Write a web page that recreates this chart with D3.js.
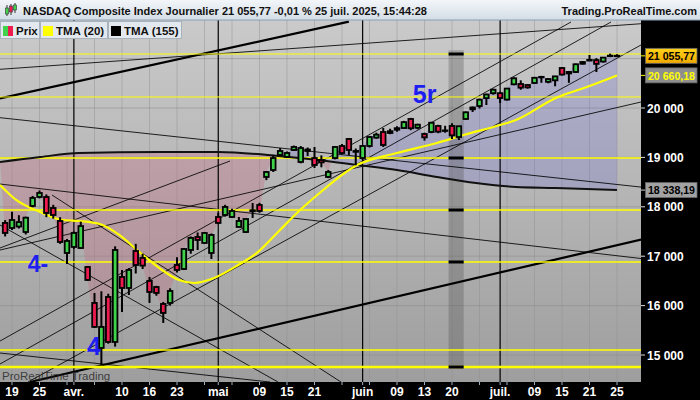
<!DOCTYPE html>
<html><head><meta charset="utf-8">
<script src="https://cdn.jsdelivr.net/npm/d3@7"></script>
<style>body{margin:0;background:#000;} svg{display:block;font-family:"Liberation Sans",Arial,sans-serif;}</style>
</head><body><svg id="c" width="700" height="400"></svg>
<script>
// ---------- DATA ----------
const firstIdx = -1; // candle index of first array element (0 = 19 mars)
const opens = [17673,17571,17600,17490,18017,18199,18199,17976,17713,17065,17187,17166,16782,16054,15142,16175,15264,16580,16357,17106,16964,16499,16377,16033,16054,16822,16741,17126,17389,17268,17065,17794,17834,17794,17592,17490,17910,18037,18604,18745,19049,19010,19150,18907,19160,18987,18947,18604,18987,19231,19373,19130,18987,19231,19400,19514,19494,19560,19595,19778,19600,19474,19514,19636,19540,19636,19413,19778,20010,20040,20200,20300,20300,20170,20480,20486,20466,20506,20620,20530,20560,20810,20700,20729,20931,20960,20970,20940,21060,21058];
const highs = [17730,17900,17830,17800,18220,18330,18250,18040,17790,17350,17500,17700,16800,16256,16290,16240,17200,16720,16760,17250,17050,16580,16400,16074,16350,16980,17160,17400,17480,17490,17460,17880,18040,17960,17794,17760,18077,18080,18720,19049,19190,19120,19240,19230,19200,19211,19040,18745,19230,19270,19390,19180,19250,19430,19500,19595,19580,19630,19740,19800,19680,19500,19720,19660,19640,19690,19640,19930,20030,20190,20290,20390,20330,20400,20620,20560,20480,20630,20650,20600,20650,20830,20750,20900,20950,21073,21010,21030,21100,21090];
const lows = [17400,17530,17560,17440,17990,18170,17790,17760,17250,16843,17150,17150,16500,15550,14798,15230,15170,15870,16215,16650,16740,16054,16200,15649,16000,16670,16720,17050,17126,17250,16944,17650,17800,17780,17580,17470,17774,17880,18540,18705,19030,18990,19130,18880,19030,18785,18800,18580,18960,19060,19050,18840,18950,19200,19380,19211,19470,19520,19580,19550,19570,19340,19490,19490,19500,19370,19352,19760,19920,19990,20060,20270,20100,20150,20460,20370,20390,20490,20510,20500,20440,20660,20510,20710,20880,20950,20729,20920,21030,21030];
const closes = [17470,17733,17690,17780,18179,18280,17875,17834,17288,17308,17470,17610,16519,15568,15568,15264,17126,16357,16721,16822,16810,16276,16256,15851,16296,16721,17146,17369,17328,17470,17430,17673,17996,17915,17713,17753,17930,17915,18705,18987,19130,19089,19211,19190,19130,18846,18900,18705,19211,19089,19150,19113,19231,19413,19460,19251,19530,19591,19714,19590,19662,19406,19701,19521,19546,19447,19630,19913,19974,20168,20273,20370,20202,20393,20601,20412,20418,20611,20630,20586,20640,20677,20730,20885,20896,20974,20893,21020,21057,21055.77];

// TMA(20)
const tma20Idx = [-1.75,0.6,4.1,7.4,9.9,12.8,15.6,18.5,21.4,24.3,26.5,29.4,32.9,35.8,38.7,41.6,44.4,50.2,56,61.8,65.7,71,73.3,79.1,83.6,88];
const tma20Val = [18442,18138,17895,17733,17713,17652,17430,17086,16762,16519,16458,16559,16822,17086,17490,17895,18239,18846,19089,19292,19454,19656,19757,20203,20425,20660.18];
// TMA(155)
const tma155Idx = [-1.75,4.1,9.7,21.4,30,38.7,44.4,50.2,56,61.8,67.5,73.3,79.1,88];
const tma155Val = [18907,19008,19089,19110,19110,19029,18947,18846,18745,18604,18482,18401,18381,18338.19];

// axis
const yTicks = [15000,16000,17000,18000,19000,20000,21000];
const gridIdx = [0,4,8,12,16,20,24,28,32,36,40,44,48,52,56,60,64,68,72,76,80,84,88];
const monthIdx = [9,30,51,71];
const labelIdx = [0,4,9,16,20,24,30,36,40,44,51,56,60,64,71,76,80,84,88];
const labelText = ["19","25","avr.","10","16","23","mai","09","15","21","juin","09","13","20","juil.","09","15","21","25"];

// horizontal support / resistance lines (yellow)
const hLevels = [21093,20223,18988,17935,16883,15101,14757];
const hLevelWidth = [1,1,1.3,1.3,1.3,1.3,2.4];
const hLevelMarked = [1,0,1,1,1,0,1];

// trend lines [idx1, val1, idx2, val2, width]
const trendLines = [
  [-1.75,20196,49.0,21747,2.6],
  [-1.75,20783,91.5,21706,1],
  [-1.75,19804,91.5,18399,1],
  [2.62,14454,91.5,17336,2.6],
  [-1.75,18461,91.5,16953,1],
  [-1.745,15283,81.31,21741,1],
  [-1.745,14818,87.13,21741,1],
  [2.33,14453,91.49,21275,1],
  [-1.745,17125,91.49,20121,1],
  [-1.745,17166,31.71,18927,1],
  [-1.745,17631,38.69,14453,1],
  [5.82,18239,47.85,14453,1],
  [-1.745,15040,37.53,14453,1]
];

// shaded vertical band
const bandIdx = [63.5, 65.7];
const bandVal = [21170, 14730];

// labels
const waves = [{t:"5r", i:58.3, v:20101, s:25},{t:"4-", i:2.3, v:16681, s:23},{t:"4", i:10.9, v:15000, s:25}];
const lastPrice = 21055.77, lastTma20 = 20660.18, lastTma155 = 18338.19;

// ---------- CHART ----------
const svg = d3.select("#c");
const W = 700, H = 400, PL = 0, PR = 641, PT = 20, PB = 382;
const x = d3.scaleLinear().domain([0, 88]).range([12, 617]);
const y = d3.scaleLinear().domain([15000, 20000]).range([355, 108]);
const fmt = v => d3.format(",.2f")(v).replace(/,/g, " ").replace(".", ",");

const defs = svg.append("defs");
const bg = defs.append("linearGradient").attr("id","bg").attr("x1",0).attr("y1",0).attr("x2",0).attr("y2",1);
bg.append("stop").attr("offset","0%").attr("stop-color","#cacaca");
bg.append("stop").attr("offset","100%").attr("stop-color","#9e9e9e");
const hg = defs.append("linearGradient").attr("id","hg").attr("x1",0).attr("y1",0).attr("x2",0).attr("y2",1);
hg.append("stop").attr("offset","0%").attr("stop-color","#f3f6f9");
hg.append("stop").attr("offset","100%").attr("stop-color","#d3dde6");
const og = defs.append("linearGradient").attr("id","og").attr("x1",0).attr("y1",0).attr("x2",0).attr("y2",1);
og.append("stop").attr("offset","0%").attr("stop-color","#ffd21a");
og.append("stop").attr("offset","100%").attr("stop-color","#f0a800");
defs.append("clipPath").attr("id","plot").append("rect").attr("x",PL).attr("y",PT).attr("width",PR-PL).attr("height",PB-PT);

svg.append("rect").attr("width",W).attr("height",H).attr("fill","#000");
svg.append("rect").attr("x",PL).attr("y",PT).attr("width",PR-PL).attr("height",PB-PT).attr("fill","url(#bg)");

const g = svg.append("g").attr("clip-path","url(#plot)");

// grid
g.selectAll(".hg").data(yTicks).join("line").attr("x1",PL).attr("x2",PR).attr("y1",d=>y(d)).attr("y2",d=>y(d)).attr("stroke","#8f8f8f").attr("stroke-opacity",0.6);
g.selectAll(".vg").data(gridIdx).join("line").attr("x1",d=>x(d)).attr("x2",d=>x(d)).attr("y1",PT).attr("y2",PB).attr("stroke","#8f8f8f").attr("stroke-opacity",0.45);

// candles as objects
const candles = closes.map((c,k)=>({i:k+firstIdx,o:opens[k],h:highs[k],l:lows[k],c:c}));
const tma155Pts = tma155Idx.map((d,k)=>[x(d), y(tma155Val[k])]);
const closePts = candles.map(d=>[x(d.i), y(d.c)]);
const line = d3.line();
// cloud between close and TMA155
const cloudPath = line(closePts) + "L" + line(tma155Pts.slice().reverse()).slice(1) + "Z";
const lineT = line(tma155Pts).slice(1);
defs.append("clipPath").attr("id","below").append("path").attr("d","M"+lineT+"L"+PR+","+PB+"L"+PL+","+PB+"Z");
defs.append("clipPath").attr("id","above").append("path").attr("d","M"+lineT+"L"+PR+","+PT+"L"+PL+","+PT+"Z");
g.append("g").attr("clip-path","url(#below)").append("path").attr("d",cloudPath).attr("fill","#c8687f").attr("fill-opacity",0.3);
g.append("g").attr("clip-path","url(#above)").append("path").attr("d",cloudPath).attr("fill","#6a6ad8").attr("fill-opacity",0.25);

// shaded band
g.append("rect").attr("x",x(bandIdx[0])).attr("width",x(bandIdx[1])-x(bandIdx[0])).attr("y",y(bandVal[0])).attr("height",y(bandVal[1])-y(bandVal[0])).attr("fill","#555").attr("fill-opacity",0.33);

// month lines
g.selectAll(".ml").data(monthIdx).join("line").attr("x1",d=>x(d)).attr("x2",d=>x(d)).attr("y1",PT).attr("y2",PB).attr("stroke","#000").attr("stroke-width",1.2);

// trend lines
g.selectAll(".tl").data(trendLines).join("line")
 .attr("x1",d=>x(d[0])).attr("y1",d=>y(d[1])).attr("x2",d=>x(d[2])).attr("y2",d=>y(d[3]))
 .attr("stroke","#000").attr("stroke-width",d=>d[4]*0.85);

// yellow levels
g.selectAll(".yl").data(hLevels).join("line").attr("x1",PL).attr("x2",PR).attr("y1",d=>y(d)).attr("y2",d=>y(d)).attr("stroke","#ffff00").attr("stroke-width",(d,k)=>hLevelWidth[k]);
// black marks in band
g.selectAll(".bm").data(hLevels.filter((d,k)=>hLevelMarked[k])).join("line").attr("x1",x(bandIdx[0])).attr("x2",x(bandIdx[1])).attr("y1",d=>y(d)).attr("y2",d=>y(d)).attr("stroke","#000").attr("stroke-width",3);

// TMA lines
const ml = d3.line().curve(d3.curveMonotoneX);
g.append("path").attr("d",ml(tma155Pts)).attr("fill","none").attr("stroke","#111").attr("stroke-width",2);
g.append("path").attr("d",ml(tma20Idx.map((d,k)=>[x(d),y(tma20Val[k])]))).attr("fill","none").attr("stroke","#ffff00").attr("stroke-width",2.2);

// candles
const cg = g.append("g");
cg.selectAll(".w").data(candles).join("line").attr("x1",d=>x(d.i)).attr("x2",d=>x(d.i)).attr("y1",d=>y(d.h)).attr("y2",d=>y(d.l)).attr("stroke","#000").attr("stroke-width",2);
cg.selectAll(".b").data(candles).join("rect")
 .attr("x",d=>x(d.i)-2.3).attr("width",4.6)
 .attr("y",d=>y(Math.max(d.o,d.c))).attr("height",d=>Math.max(0.5,Math.abs(y(d.o)-y(d.c))))
 .attr("fill",d=>d.c>=d.o?"#3fd24a":"#ee1c4e").attr("stroke","#000").attr("stroke-width",1.8);

// wave labels
g.selectAll(".wv").data(waves).join("text").attr("x",d=>x(d.i)).attr("y",d=>y(d.v)).attr("font-size",d=>d.s).attr("font-weight","bold").attr("fill","#1e1ef0").text(d=>d.t);

// watermark
svg.append("text").attr("x",2).attr("y",380).attr("font-size",11.5).attr("fill","#2a2a2a").attr("fill-opacity",0.85).text("ProRealTime Trading");

// x axis
svg.selectAll(".xt").data(gridIdx.concat(monthIdx)).join("line").attr("x1",d=>x(d)).attr("x2",d=>x(d)).attr("y1",PB).attr("y2",PB+3).attr("stroke","#9fb0c0");
svg.selectAll(".xl").data(labelIdx).join("text").attr("x",d=>x(d)).attr("y",396).attr("text-anchor","middle").attr("font-size",12).attr("font-weight","bold").attr("fill","#fff").text((d,k)=>labelText[k]);

// y axis
svg.selectAll(".yt").data(yTicks.filter(v=>v<=20000)).join("line").attr("x1",PR).attr("x2",PR+4).attr("y1",d=>y(d)).attr("y2",d=>y(d)).attr("stroke","#ddd");
svg.selectAll(".ylab").data(yTicks.filter(v=>v<=20000)).join("text").attr("x",PR+6).attr("y",d=>y(d)+4.5).attr("font-size",12).attr("font-weight","bold").attr("fill","#fff").text(d=>d3.format(",")(d).replace(/,/g," "));

// price boxes
const boxes = [{v:lastTma155, fill:"#a2a2a2", tc:"#000", tick:"#ccc"},{v:lastTma20, fill:"#8e8e8e", tc:"#ffff00", tick:"#ffff00"},{v:lastPrice, fill:"url(#og)", tc:"#000", tick:"#ffff00"}];
boxes.forEach(b=>{
  const yy = y(b.v);
  svg.append("line").attr("x1",PR).attr("x2",PR+5).attr("y1",yy).attr("y2",yy).attr("stroke",b.tick);
  svg.append("rect").attr("x",PR+4.5).attr("y",yy-7.5).attr("width",51.5).attr("height",15).attr("fill",b.fill).attr("stroke","#666").attr("stroke-width",0.8);
  svg.append("text").attr("x",PR+7).attr("y",yy+4.2).attr("font-size",11.5).attr("font-weight","bold").attr("fill",b.tc).attr("textLength",47).attr("lengthAdjust","spacingAndGlyphs").text(fmt(b.v));
});

// header
svg.append("rect").attr("x",0).attr("y",0).attr("width",W).attr("height",20).attr("fill","url(#hg)");
svg.append("line").attr("x1",0).attr("x2",W).attr("y1",20).attr("y2",20).attr("stroke","#8aa0b4");
// icon
[[7,8,14,"#3fd24a",5,16],[11,6,12,"#ee1c4e",4,15],[15,5,10,"#3fd24a",3,13]].forEach(a=>{
  svg.append("line").attr("x1",a[0]).attr("x2",a[0]).attr("y1",a[4]).attr("y2",a[5]).attr("stroke","#333");
  svg.append("rect").attr("x",a[0]-1.5).attr("y",a[1]).attr("width",3).attr("height",a[2]-a[1]).attr("fill",a[3]).attr("stroke","#333").attr("stroke-width",0.6);
});
svg.append("text").attr("x",23).attr("y",14.5).attr("font-size",11).attr("font-weight","bold").attr("fill","#111").attr("textLength",404).attr("lengthAdjust","spacingAndGlyphs").text("NASDAQ Composite Index Journalier 21 055,77 -0,01 % 25 juil. 2025, 15:44:28");
svg.append("text").attr("x",697).attr("y",14.5).attr("text-anchor","end").attr("font-size",11).attr("font-weight","bold").attr("fill","#111").text("Trading.ProRealTime.com");

// legend
const leg = [{x:0,w:39,t:"Prix",sw:"pr"},{x:40,w:67,t:"TMA (20)",sw:"#ffff00"},{x:108,w:73,t:"TMA (155)",sw:"#000"}];
leg.forEach(l=>{
  svg.append("rect").attr("x",l.x+0.5).attr("y",21.5).attr("width",l.w).attr("height",17).attr("fill","#e3e8ee").attr("stroke","#a8b3be");
  if(l.sw==="pr"){
    svg.append("rect").attr("x",l.x+3).attr("y",26).attr("width",5).attr("height",10).attr("fill","#3fd24a");
    svg.append("rect").attr("x",l.x+8).attr("y",26).attr("width",5).attr("height",10).attr("fill","#ee1c4e");
  } else {
    svg.append("rect").attr("x",l.x+3).attr("y",26).attr("width",10).attr("height",10).attr("fill",l.sw);
  }
  svg.append("text").attr("x",l.x+16).attr("y",35).attr("font-size",11.5).attr("font-weight","bold").attr("fill","#111").text(l.t);
});
</script></body></html>
